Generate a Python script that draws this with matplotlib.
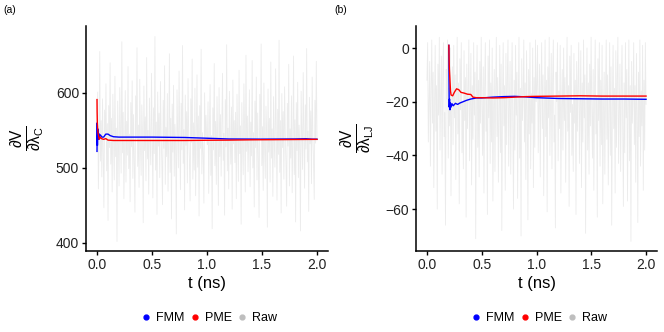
import numpy as np
import matplotlib
matplotlib.use("Agg")
import matplotlib.pyplot as plt
from matplotlib.lines import Line2D

plt.rcParams['font.family'] = ['Liberation Sans', 'DejaVu Sans']
plt.rcParams['mathtext.fontset'] = 'custom'
plt.rcParams['mathtext.rm'] = 'Liberation Sans'
plt.rcParams['mathtext.it'] = 'Liberation Sans'
plt.rcParams['mathtext.bf'] = 'Liberation Sans:bold'

# ---------------- data ----------------
raw_a = [
    548, 601, 472, 530, 655, 509, 563, 488, 592, 521, 447, 577, 538, 612, 496, 559, 430, 583, 527, 640,
    505, 566, 468, 598, 541, 484, 622, 515, 553, 402, 589, 532, 476, 607, 549, 493, 668, 520, 574, 459,
    536, 603, 481, 562, 517, 635, 499, 545, 455, 587, 528, 616, 486, 571, 510, 441, 596, 539, 660, 502,
    557, 474, 618, 531, 490, 584, 546, 427, 609, 523, 568, 483, 647, 512, 550, 465, 593, 535, 504, 626,
    542, 460, 580, 519, 675, 497, 561, 438, 601, 529, 573, 487, 615, 544, 508, 451, 590, 526, 636, 478,
    554, 515, 599, 469, 537, 652, 494, 566, 432, 585, 521, 610, 489, 558, 533, 412, 604, 547, 500, 629,
    540, 471, 586, 524, 663, 506, 551, 444, 597, 530, 575, 480, 619, 543, 511, 456, 592, 534, 645, 485,
    560, 497, 606, 463, 538, 624, 501, 569, 436, 583, 526, 658, 492, 547, 518, 453, 600, 536, 570, 540,
    531, 588, 466, 552, 611, 490, 543, 419, 580, 524, 639, 503, 562, 478, 595, 537, 450, 607, 515, 571,
    489, 559, 626, 510, 546, 437, 591, 528, 664, 496, 553, 472, 602, 539, 505, 581, 445, 617, 532, 563,
    507, 574, 459, 598, 541, 482, 630, 519, 556, 425, 587, 533, 491, 612, 548, 468, 650, 522, 569, 495,
    538, 604, 475, 561, 516, 643, 500, 547, 448, 589, 527, 621, 484, 573, 512, 434, 598, 540, 665, 503,
    555, 470, 613, 529, 486, 582, 549, 421, 605, 521, 566, 481, 641, 513, 552, 462, 595, 534, 501, 632,
    544, 457, 578, 518, 670, 494, 563, 440, 599, 527, 575, 485, 608, 546, 506, 449, 586, 529, 638, 476,
    552, 513, 596, 467, 539, 649, 491, 564, 428, 587, 523, 614, 487, 557, 535, 416, 602, 545, 498, 627,
    541, 473, 584, 525, 659, 508, 549, 442, 594, 532, 576, 479, 621, 542, 509, 458, 590, 533, 642, 539,
]
raw_b = [
    -12, 2, -35, -20, -5, -44, -16, 3, -28, -9, -52, -22, 1, -31, -14, -60, -6, -25, 4, -38,
    -18, -3, -47, -11, 2, -33, -24, -66, -8, -19, 3, -41, -15, -29, 0, -55, -21, -7, -36, 1,
    -26, -10, -49, -17, 4, -32, -13, -58, -4, -23, 2, -39, -20, -45, -1, -27, -11, -63, -6, -30,
    -16, 3, -42, -22, -2, -51, -14, -34, 2, -25, -9, -71, -18, 1, -37, -12, -48, -5, -28, 4,
    -21, -40, -7, -54, -15, 2, -31, -19, -62, -3, -26, 3, -43, -13, -35, 0, -57, -23, -8, -46,
    -17, 4, -33, -11, -50, -24, 1, -39, -6, -68, -20, 2, -29, -14, -53, -2, -36, -10, 3, -44,
    -22, -5, -47, -16, 2, -30, -60, -12, -38, 1, -25, -9, -56, -19, 4, -41, -15, -70, -4, -27,
    -18, 3, -35, -13, -49, -1, -23, -64, -8, -32, 2, -45, -17, -28, 0, -52, -11, -37, 3, -20,
    -14, 1, -39, -21, -6, -48, -17, 2, -30, -10, -55, -23, 3, -33, -12, -61, -7, -26, 4, -40,
    -19, -2, -45, -12, 3, -35, -25, -67, -9, -20, 2, -42, -16, -30, 1, -54, -22, -8, -38, 0,
    -27, -11, -50, -15, 4, -31, -14, -59, -3, -24, 1, -40, -21, -46, -2, -28, -12, -62, -5, -31,
    -15, 2, -43, -23, -1, -52, -13, -35, 3, -26, -10, -69, -19, 0, -38, -13, -47, -6, -29, 4,
    -22, -41, -8, -53, -16, 3, -32, -18, -63, -4, -27, 2, -44, -12, -36, 1, -58, -24, -9, -47,
    -18, 3, -34, -10, -51, -25, 2, -40, -7, -66, -21, 1, -30, -15, -54, -1, -37, -11, 4, -43,
    -23, -6, -46, -17, 1, -31, -59, -13, -39, 2, -26, -8, -57, -20, 3, -42, -14, -72, -5, -28,
    -19, 2, -36, -14, -50, -2, -24, -65, -9, -33, 3, -44, -16, -29, 1, -53, -12, -38, 2, -21,
]
t_raw_a = np.linspace(0.0, 2.0, len(raw_a))
t_raw_b = np.linspace(0.0, 2.0, len(raw_b))

t_fmm_a = [0.0, 0.002, 0.004, 0.007, 0.01, 0.015, 0.02, 0.03, 0.045, 0.06, 0.08, 0.1, 0.12, 0.15,
           0.2, 0.5, 0.8, 1.0, 1.2, 1.5, 1.8, 1.9, 1.95, 2.0]
fmm_a = [522, 560, 530, 552, 538, 546, 541, 544, 541, 541, 545, 545, 543, 541.5,
         541, 541, 540.5, 539.5, 538.5, 538.3, 538.5, 538.8, 538.3, 538.2]
t_pme_a = [0.0, 0.001, 0.003, 0.006, 0.01, 0.015, 0.02, 0.03, 0.04, 0.06, 0.08, 0.1, 0.15,
           0.2, 0.4, 0.6, 0.8, 1.0, 1.2, 1.4, 1.6, 1.8, 2.0]
pme_a = [591, 575, 560, 552, 546, 542, 538, 541, 539, 538, 539, 537, 536.5,
         536.5, 536.5, 536.5, 536.5, 536.8, 537, 537.4, 537.6, 537.8, 538]

t_fmm_b = [0.2, 0.201, 0.203, 0.206, 0.21, 0.215, 0.22, 0.23, 0.24, 0.26, 0.28, 0.3, 0.33, 0.36,
           0.4, 0.45, 0.5, 0.6, 0.7, 0.8, 0.9, 1.0, 1.2, 1.4, 1.6, 1.8, 2.0]
fmm_b = [1, -10, -22, -19, -23, -20.5, -22, -20.8, -21.5, -20.6, -21.0, -20.5, -20.0, -19.5,
         -19.0, -18.6, -18.6, -18.3, -18.1, -18.0, -18.2, -18.5, -18.8, -18.9, -19.0, -19.0, -19.1]
t_pme_b = [0.2, 0.202, 0.205, 0.21, 0.215, 0.22, 0.235, 0.25, 0.27, 0.29, 0.31, 0.34, 0.37, 0.4,
           0.42, 0.45, 0.5, 0.6, 0.7, 0.8, 0.9, 1.0, 1.2, 1.4, 1.6, 1.8, 2.0]
pme_b = [1, -4, -8, -12, -16, -17.5, -17.8, -16.5, -15.2, -15.5, -16.5, -16.8, -17.2, -17.3,
         -18.3, -18.5, -18.5, -18.6, -18.5, -18.3, -18.1, -18.0, -17.9, -17.8, -17.9, -17.9, -17.9]

x_ticks = [0.0, 0.5, 1.0, 1.5, 2.0]
x_ticklabels = ["0.0", "0.5", "1.0", "1.5", "2.0"]
y_ticks_a = [400, 500, 600]
y_ticks_b = [-60, -40, -20, 0]
y_ticklabels_b = ["\u221260", "\u221240", "\u221220", "0"]

series_names = ["FMM", "PME", "Raw"]
series_colors = ["#0000FF", "#FF0000", "#BEBEBE"]
raw_color = "#EBEBEB"

# ---------------- figure ----------------
W, H = 664, 332
fig = plt.figure(figsize=(W / 100, H / 100), dpi=100)

def px_rect(l, t, r, b):
    return [l / W, 1 - b / H, (r - l) / W, (b - t) / H]

ax_a = fig.add_axes(px_rect(86, 26, 328, 251))
ax_b = fig.add_axes(px_rect(416, 26, 657, 251))

def style(ax):
    for s in ['top', 'right']:
        ax.spines[s].set_visible(False)
    for s in ['left', 'bottom']:
        ax.spines[s].set_linewidth(1.1)
        ax.spines[s].set_color('black')
    ax.tick_params(axis='both', direction='out', length=3, width=1.0, color='black',
                   labelsize=10, labelcolor='#222222', pad=2)
    ax.set_xlim(-0.1, 2.1)
    ax.set_xticks(x_ticks)
    ax.set_xticklabels(x_ticklabels)
    ax.set_xlabel("t (ns)", fontsize=12, labelpad=3)
    ax.set_facecolor('white')

# panel a
ax_a.plot(t_raw_a, raw_a, color=raw_color, lw=0.6, zorder=1)
ax_a.plot(t_fmm_a, fmm_a, color=series_colors[0], lw=1.0, zorder=2)
ax_a.plot(t_pme_a, pme_a, color=series_colors[1], lw=1.0, zorder=3)
style(ax_a)
ax_a.set_ylim(389.3, 689)
ax_a.set_yticks(y_ticks_a)
ax_a.set_ylabel(r'$\frac{\partial\mathrm{V}}{\partial\lambda_\mathrm{C}}$', fontsize=16, labelpad=6)

# panel b
ax_b.plot(t_raw_b, raw_b, color=raw_color, lw=0.6, zorder=1)
ax_b.plot(t_fmm_b, fmm_b, color=series_colors[0], lw=1.0, zorder=2)
ax_b.plot(t_pme_b, pme_b, color=series_colors[1], lw=1.0, zorder=3)
style(ax_b)
ax_b.set_ylim(-75.6, 8.2)
ax_b.set_yticks(y_ticks_b)
ax_b.set_yticklabels(y_ticklabels_b)
ax_b.set_ylabel(r'$\frac{\partial\mathrm{V}}{\partial\lambda_\mathrm{LJ}}$', fontsize=16, labelpad=6)

fig.text(3 / W, 1 - 10 / H, "(a)", fontsize=7.5, va='center', ha='left')
fig.text(334 / W, 1 - 10 / H, "(b)", fontsize=7.5, va='center', ha='left')

handles = [Line2D([0], [0], marker='o', linestyle='none', markersize=3.5,
                  markerfacecolor=c, markeredgecolor=c) for c in series_colors]
for cx in (208.5, 538.5):
    fig.legend(handles, series_names, loc='center', bbox_to_anchor=(cx / W, 1 - 318 / H),
               ncol=3, frameon=False, fontsize=9, handletextpad=0.3, columnspacing=0.3,
               handlelength=1.0, borderpad=0, borderaxespad=0)

fig.savefig("out.png", dpi=100)
